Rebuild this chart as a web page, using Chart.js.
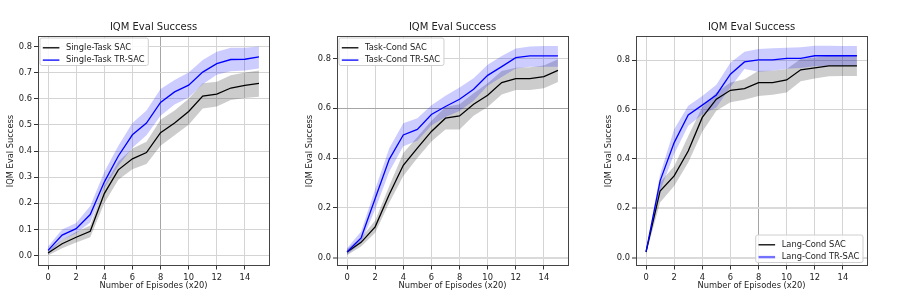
<!DOCTYPE html>
<html><head><meta charset="utf-8">
<script src="https://cdn.jsdelivr.net/npm/chart.js@4.4.1/dist/chart.umd.min.js"></script>
<style>
html,body{margin:0;padding:0;background:#fff;}
#wrap{position:relative;width:897px;height:299px;overflow:hidden;}
.p{position:absolute;top:0;width:299px;height:299px;}
</style></head><body>
<div id="wrap">
<div class="p" style="left:0"><canvas id="c1"></canvas></div>
<div class="p" style="left:299px"><canvas id="c2"></canvas></div>
<div class="p" style="left:598px"><canvas id="c3"></canvas></div>
</div>
<script>
// ---------- data ----------
const episodes = [0,1,2,3,4,5,6,7,8,9,10,11,12,13,14,15];
const xTicks = [0,2,4,6,8,10,12,14];
const yTicksFine = [0.0,0.1,0.2,0.3,0.4,0.5,0.6,0.7,0.8];
const yTicksCoarse = [0.0,0.2,0.4,0.6,0.8];

// Panel 1: Single-Task
const stSacMean  = [0.010,0.045,0.070,0.093,0.237,0.328,0.370,0.394,0.470,0.507,0.551,0.610,0.618,0.641,0.651,0.659];
const stSacLow   = [0.000,0.028,0.050,0.070,0.200,0.290,0.330,0.350,0.420,0.460,0.500,0.563,0.570,0.595,0.603,0.608];
const stSacHigh  = [0.020,0.060,0.090,0.115,0.268,0.360,0.410,0.435,0.520,0.555,0.600,0.659,0.665,0.690,0.700,0.708];
const stTrMean   = [0.020,0.078,0.103,0.157,0.281,0.381,0.462,0.507,0.586,0.626,0.652,0.702,0.734,0.750,0.751,0.760];
const stTrLow    = [0.005,0.060,0.085,0.126,0.258,0.344,0.412,0.460,0.535,0.578,0.605,0.655,0.692,0.705,0.708,0.716];
const stTrHigh   = [0.035,0.100,0.125,0.190,0.320,0.420,0.507,0.555,0.637,0.672,0.700,0.748,0.780,0.795,0.795,0.800];

// Panel 2: Task-Cond
const tcSacMean  = [0.023,0.062,0.124,0.254,0.371,0.440,0.507,0.560,0.569,0.616,0.652,0.703,0.719,0.719,0.727,0.752];
const tcSacLow   = [0.010,0.045,0.100,0.221,0.328,0.400,0.467,0.515,0.515,0.570,0.605,0.655,0.673,0.673,0.680,0.705];
const tcSacHigh  = [0.035,0.080,0.150,0.288,0.420,0.485,0.550,0.605,0.616,0.660,0.700,0.750,0.763,0.765,0.772,0.797];
const tcTrMean   = [0.023,0.080,0.238,0.395,0.493,0.515,0.575,0.607,0.636,0.676,0.732,0.767,0.803,0.810,0.810,0.810];
const tcTrLow    = [0.012,0.060,0.194,0.345,0.448,0.470,0.531,0.565,0.589,0.630,0.690,0.725,0.760,0.767,0.767,0.767];
const tcTrHigh   = [0.038,0.105,0.275,0.440,0.540,0.560,0.612,0.650,0.683,0.720,0.775,0.810,0.840,0.848,0.850,0.850];

// Panel 3: Lang-Cond
const lcSacMean  = [0.023,0.270,0.331,0.432,0.568,0.642,0.678,0.685,0.709,0.709,0.720,0.761,0.769,0.777,0.777,0.777];
const lcSacLow   = [0.015,0.223,0.290,0.385,0.510,0.595,0.630,0.640,0.655,0.660,0.669,0.715,0.726,0.735,0.736,0.736];
const lcSacHigh  = [0.030,0.305,0.370,0.493,0.610,0.669,0.710,0.723,0.757,0.757,0.764,0.805,0.811,0.818,0.820,0.820];
const lcTrMean   = [0.023,0.311,0.466,0.578,0.618,0.659,0.743,0.793,0.801,0.801,0.807,0.807,0.818,0.818,0.818,0.818];
const lcTrLow    = [0.015,0.270,0.420,0.534,0.580,0.608,0.690,0.764,0.753,0.757,0.765,0.768,0.775,0.777,0.777,0.777];
const lcTrHigh   = [0.030,0.338,0.520,0.615,0.655,0.700,0.790,0.834,0.845,0.848,0.850,0.852,0.858,0.858,0.857,0.857];

// ---------- rendering ----------
const FONT = '"DejaVu Sans", Verdana, sans-serif';
const TXT = '#222';
const FS = 8.3;

const pts = arr => arr.map((v,i)=>({x:episodes[i], y:v}));

const framePlugin = {
  id:'frame',
  afterDatasetsDraw(chart){
    const {ctx, chartArea:a} = chart;
    ctx.save();
    ctx.strokeStyle = '#444'; ctx.lineWidth = 1;
    ctx.strokeRect(Math.round(a.left)+0.5, Math.round(a.top)+0.5, Math.round(a.right-a.left)-1, Math.round(a.bottom-a.top)-1);
    ctx.restore();
  }
};

const legendPlugin = {
  id:'mplLegend',
  afterDraw(chart, args, opts){
    const {ctx, chartArea:a} = chart;
    ctx.save();
    ctx.font = FS + 'px ' + FONT;
    const tw = Math.max(...opts.items.map(it=>ctx.measureText(it.text).width));
    const bp = 3.3, hl = 16.6, tp = 6.6;
    const w = bp + hl + tp + tw + bp, h = 27.5;
    let x0, y0;
    if (opts.corner === 'ul') { x0 = a.left + 2; y0 = a.top + 1.5; }
    else { x0 = a.right - 5 - w; y0 = a.bottom - 4 - h; }
    ctx.beginPath();
    ctx.roundRect(x0+0.5, y0+0.5, w, h, 2);
    ctx.fillStyle = 'rgba(255,255,255,0.85)';
    ctx.fill();
    ctx.strokeStyle = '#cfcfcf'; ctx.lineWidth = 1; ctx.stroke();
    opts.items.forEach((it, i) => {
      const yy = y0 + 10.3 + i*12.3;
      ctx.beginPath();
      ctx.moveTo(x0+bp, yy); ctx.lineTo(x0+bp+hl, yy);
      ctx.strokeStyle = it.color; ctx.lineWidth = it.width; ctx.stroke();
      ctx.fillStyle = TXT; ctx.textBaseline = 'middle'; ctx.textAlign = 'left';
      ctx.fillText(it.text, x0+bp+hl+tp, yy);
    });
    ctx.restore();
  }
};

function makeChart(id, cfg){
  const near = (v, list) => list.some(e => Math.abs(e - v) < 1e-6);
  const datasets = [
    {label:cfg.names[0], data:pts(cfg.sacMean), borderColor:'#000', borderWidth:1.3, pointRadius:0, fill:false, order:1},
    {label:cfg.names[1], data:pts(cfg.trMean), borderColor:'#0000ff', borderWidth:1.3, pointRadius:0, fill:false, order:0},
    {label:'sacLow', data:pts(cfg.sacLow), borderWidth:0, borderColor:'rgba(0,0,0,0)', pointRadius:0, fill:false, order:5},
    {label:'sacHigh', data:pts(cfg.sacHigh), borderWidth:0, borderColor:'rgba(0,0,0,0)', pointRadius:0, fill:'-1', backgroundColor:'rgba(0,0,0,0.2)', order:4},
    {label:'trLow', data:pts(cfg.trLow), borderWidth:0, borderColor:'rgba(0,0,0,0)', pointRadius:0, fill:false, order:3},
    {label:'trHigh', data:pts(cfg.trHigh), borderWidth:0, borderColor:'rgba(0,0,0,0)', pointRadius:0, fill:'-1', backgroundColor:'rgba(0,0,255,0.2)', order:2}
  ];
  return new Chart(document.getElementById(id), {
    type:'line',
    data:{datasets},
    plugins:[framePlugin, legendPlugin],
    options:{
      responsive:true, maintainAspectRatio:false, animation:false,
      devicePixelRatio:1,
      layout:{padding:{left:0, right:29.5, top:0, bottom:0}},
      elements:{line:{tension:0}},
      plugins:{
        legend:{display:false},
        tooltip:{enabled:false},
        title:{display:true, text:'IQM Eval Success', color:TXT, fullSize:false,
               font:{family:FONT, size:10, weight:'normal', lineHeight:1.2},
               padding:{top:21, bottom:3}},
        mplLegend:{corner:cfg.corner, items:[
          {text:cfg.names[0], color:'#000', width:1.3},
          {text:cfg.names[1], color:cfg.legendBlue, width:cfg.legendBlueW}
        ]}
      },
      scales:{
        x:{type:'linear', min:-0.75, max:15.75,
           afterFit(s){ s.height = 33; },
           afterBuildTicks(s){ s.ticks = xTicks.map(v=>({value:v})); },
           ticks:{color:TXT, font:{family:FONT, size:FS}, padding:3.5, maxRotation:0, autoSkip:false,
                  callback:v=>String(v)},
           grid:{color:c=> near(c.tick && c.tick.value, cfg.darkX) ? '#a5a5a5' : '#d4d4d4',
                 lineWidth:1, tickColor:'#333', tickLength:3.5, tickWidth:1},
           border:{display:false},
           title:{display:true, text:'Number of Episodes (x20)', color:TXT,
                  font:{family:FONT, size:FS, lineHeight:1.2}, padding:{top:0, bottom:8}}
        },
        y:{type:'linear', min:cfg.yMin, max:cfg.yMax,
           afterFit(s){ s.width = 37.5; },
           afterBuildTicks(s){ s.ticks = cfg.yTicks.map(v=>({value:v})); },
           ticks:{color:TXT, font:{family:FONT, size:FS}, padding:2, autoSkip:false,
                  callback:v=>Number(v).toFixed(1)},
           grid:{color:c=> near(c.tick && c.tick.value, cfg.darkY) ? '#a5a5a5' : (near(c.tick && c.tick.value, cfg.thickY) ? '#dadada' : '#d4d4d4'),
                 lineWidth:c=> near(c.tick && c.tick.value, cfg.thickY) ? 2 : 1,
                 tickColor:'#333', tickLength:3.5, tickWidth:1},
           border:{display:false},
           title:{display:true, text:'IQM Eval Success', color:TXT,
                  font:{family:FONT, size:FS, lineHeight:1.2}, padding:{top:6, bottom:0}}
        }
      }
    }
  });
}

makeChart('c1', {
  names:['Single-Task SAC','Single-Task TR-SAC'],
  sacMean:stSacMean, sacLow:stSacLow, sacHigh:stSacHigh,
  trMean:stTrMean, trLow:stTrLow, trHigh:stTrHigh,
  yMin:-0.04, yMax:0.84, yTicks:yTicksFine, corner:'ul',
  legendBlue:'#0000ff', legendBlueW:1.3, darkX:[8], darkY:[], thickY:[]
});
makeChart('c2', {
  names:['Task-Cond SAC','Task-Cond TR-SAC'],
  sacMean:tcSacMean, sacLow:tcSacLow, sacHigh:tcSacHigh,
  trMean:tcTrMean, trLow:tcTrLow, trHigh:tcTrHigh,
  yMin:-0.033, yMax:0.89, yTicks:yTicksCoarse, corner:'ul',
  legendBlue:'#0000ff', legendBlueW:1.3, darkX:[], darkY:[0.6], thickY:[0.0]
});
makeChart('c3', {
  names:['Lang-Cond SAC','Lang-Cond TR-SAC'],
  sacMean:lcSacMean, sacLow:lcSacLow, sacHigh:lcSacHigh,
  trMean:lcTrMean, trLow:lcTrLow, trHigh:lcTrHigh,
  yMin:-0.034, yMax:0.898, yTicks:yTicksCoarse, corner:'lr',
  legendBlue:'rgba(0,0,255,0.55)', legendBlueW:2.4, darkX:[8], darkY:[], thickY:[0.0,0.2]
});
</script>
</body></html>
